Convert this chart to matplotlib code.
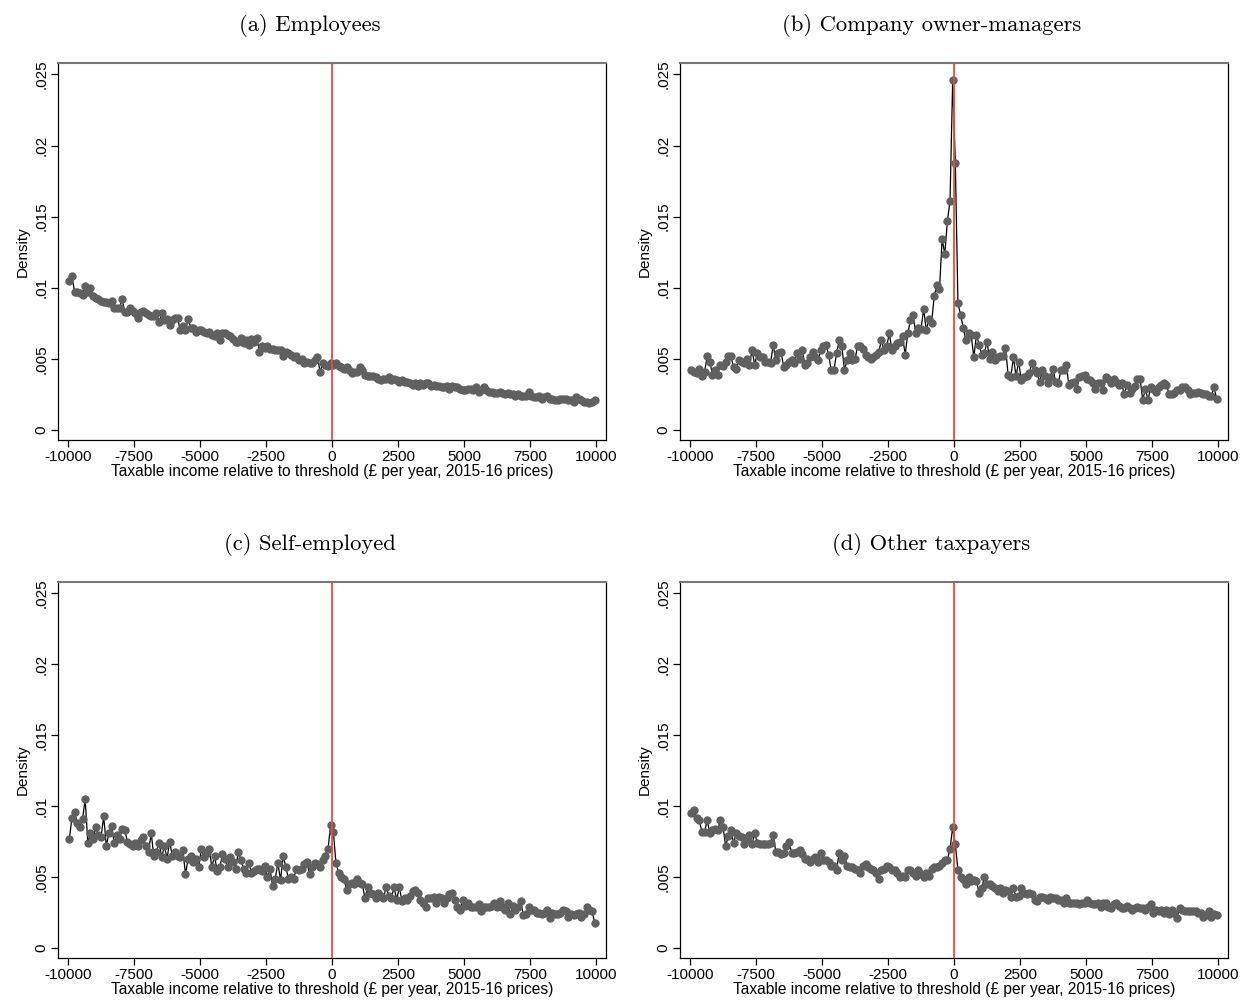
import numpy as np
import matplotlib
matplotlib.use("Agg")
import matplotlib.pyplot as plt

# Bin centres: -9950 ... 9950 in steps of 100
bin_lo, bin_hi, bin_w = -9950, 9950, 100

titles = ["(a) Employees", "(b) Company owner-managers",
          "(c) Self-employed", "(d) Other taxpayers"]

employees = [
    0.0105, 0.0108, 0.0097, 0.0097, 0.0096, 0.0095, 0.0101, 0.0097, 0.0100, 0.0094,
    0.0093, 0.0092, 0.0091, 0.0090, 0.0090, 0.0089, 0.0091, 0.0086, 0.0086, 0.0086,
    0.0092, 0.0083, 0.0083, 0.0086, 0.0084, 0.0082, 0.0079, 0.0083, 0.0084, 0.0082,
    0.0081, 0.0080, 0.0080, 0.0082, 0.0076, 0.0082, 0.0077, 0.0078, 0.0074, 0.0077,
    0.0079, 0.0079, 0.0070, 0.0073, 0.0070, 0.0078, 0.0072, 0.0072, 0.0069, 0.0070,
    0.0070, 0.0069, 0.0068, 0.0069, 0.0067, 0.0066, 0.0068, 0.0063, 0.0068, 0.0068,
    0.0067, 0.0066, 0.0064, 0.0062, 0.0062, 0.0065, 0.0061, 0.0063, 0.0060, 0.0064,
    0.0062, 0.0065, 0.0055, 0.0059, 0.0058, 0.0059, 0.0057, 0.0057, 0.0056, 0.0056,
    0.0056, 0.0052, 0.0055, 0.0054, 0.0053, 0.0051, 0.0052, 0.0049, 0.0050, 0.0047,
    0.0048, 0.0047, 0.0047, 0.0049, 0.0051, 0.0041, 0.0047, 0.0046, 0.0045, 0.0047,
    0.0046, 0.0047, 0.0045, 0.0044, 0.0043, 0.0044, 0.0042, 0.0040, 0.0041, 0.0041,
    0.0044, 0.0042, 0.0039, 0.0038, 0.0038, 0.0038, 0.0037, 0.0036, 0.0035, 0.0036,
    0.0036, 0.0037, 0.0035, 0.0036, 0.0035, 0.0034, 0.0035, 0.0034, 0.0034, 0.0033,
    0.0032, 0.0033, 0.0031, 0.0033, 0.0032, 0.0033, 0.0033, 0.0031, 0.0032, 0.0031,
    0.0031, 0.0030, 0.0030, 0.0031, 0.0029, 0.0031, 0.0030, 0.0030, 0.0029, 0.0028,
    0.0028, 0.0029, 0.0029, 0.0028, 0.0030, 0.0027, 0.0028, 0.0030, 0.0028, 0.0027,
    0.0027, 0.0026, 0.0026, 0.0027, 0.0026, 0.0025, 0.0026, 0.0025, 0.0025, 0.0024,
    0.0025, 0.0024, 0.0024, 0.0024, 0.0027, 0.0024, 0.0023, 0.0023, 0.0024, 0.0022,
    0.0023, 0.0024, 0.0022, 0.0022, 0.0021, 0.0021, 0.0022, 0.0022, 0.0022, 0.0021,
    0.0021, 0.0020, 0.0023, 0.0022, 0.0021, 0.0020, 0.0020, 0.0019, 0.0020, 0.0021,
]

owner_managers = [
    0.0042, 0.0041, 0.0040, 0.0043, 0.0038, 0.0041, 0.0052, 0.0048, 0.0039, 0.0042,
    0.0039, 0.0046, 0.0045, 0.0048, 0.0052, 0.0052, 0.0044, 0.0043, 0.0049, 0.0048,
    0.0047, 0.0050, 0.0046, 0.0056, 0.0046, 0.0054, 0.0051, 0.0051, 0.0048, 0.0048,
    0.0047, 0.0060, 0.0049, 0.0054, 0.0055, 0.0044, 0.0046, 0.0048, 0.0049, 0.0047,
    0.0054, 0.0050, 0.0056, 0.0046, 0.0047, 0.0051, 0.0055, 0.0051, 0.0049, 0.0056,
    0.0059, 0.0060, 0.0053, 0.0042, 0.0042, 0.0054, 0.0063, 0.0059, 0.0042, 0.0049,
    0.0054, 0.0049, 0.0050, 0.0059, 0.0059, 0.0057, 0.0053, 0.0051, 0.0050, 0.0051,
    0.0053, 0.0055, 0.0063, 0.0056, 0.0059, 0.0068, 0.0056, 0.0059, 0.0061, 0.0062,
    0.0066, 0.0053, 0.0068, 0.0077, 0.0081, 0.0068, 0.0072, 0.0071, 0.0085, 0.0070,
    0.0078, 0.0075, 0.0094, 0.0102, 0.0099, 0.0134, 0.0124, 0.0147, 0.0161, 0.0246,
    0.0188, 0.0089, 0.0081, 0.0072, 0.0063, 0.0068, 0.0067, 0.0051, 0.0067, 0.0060,
    0.0053, 0.0054, 0.0062, 0.0050, 0.0055, 0.0049, 0.0051, 0.0052, 0.0052, 0.0058,
    0.0039, 0.0037, 0.0051, 0.0038, 0.0048, 0.0035, 0.0037, 0.0038, 0.0040, 0.0047,
    0.0042, 0.0040, 0.0034, 0.0042, 0.0038, 0.0033, 0.0037, 0.0043, 0.0034, 0.0033,
    0.0042, 0.0042, 0.0046, 0.0032, 0.0033, 0.0034, 0.0029, 0.0037, 0.0038, 0.0039,
    0.0036, 0.0035, 0.0033, 0.0029, 0.0033, 0.0033, 0.0028, 0.0037, 0.0036, 0.0033,
    0.0036, 0.0034, 0.0032, 0.0033, 0.0025, 0.0032, 0.0026, 0.0029, 0.0031, 0.0036,
    0.0036, 0.0021, 0.0029, 0.0021, 0.0030, 0.0029, 0.0027, 0.0030, 0.0032, 0.0033,
    0.0032, 0.0025, 0.0025, 0.0026, 0.0028, 0.0028, 0.0030, 0.0030, 0.0028, 0.0025,
    0.0026, 0.0026, 0.0027, 0.0026, 0.0025, 0.0025, 0.0024, 0.0024, 0.0030, 0.0022,
]

self_employed = [
    0.0077, 0.0092, 0.0096, 0.0088, 0.0085, 0.0091, 0.0105, 0.0074, 0.0081, 0.0077,
    0.0085, 0.0080, 0.0078, 0.0093, 0.0072, 0.0081, 0.0086, 0.0074, 0.0080, 0.0077,
    0.0084, 0.0083, 0.0075, 0.0073, 0.0072, 0.0074, 0.0072, 0.0076, 0.0078, 0.0072,
    0.0068, 0.0081, 0.0065, 0.0068, 0.0074, 0.0064, 0.0072, 0.0063, 0.0075, 0.0065,
    0.0068, 0.0065, 0.0064, 0.0069, 0.0052, 0.0063, 0.0065, 0.0061, 0.0063, 0.0057,
    0.0070, 0.0064, 0.0067, 0.0070, 0.0057, 0.0065, 0.0054, 0.0057, 0.0066, 0.0063,
    0.0057, 0.0064, 0.0061, 0.0056, 0.0068, 0.0062, 0.0056, 0.0053, 0.0060, 0.0053,
    0.0054, 0.0056, 0.0056, 0.0054, 0.0058, 0.0050, 0.0056, 0.0044, 0.0049, 0.0060,
    0.0048, 0.0065, 0.0057, 0.0049, 0.0050, 0.0049, 0.0056, 0.0055, 0.0056, 0.0059,
    0.0061, 0.0052, 0.0057, 0.0060, 0.0059, 0.0057, 0.0062, 0.0065, 0.0070, 0.0087,
    0.0082, 0.0060, 0.0053, 0.0050, 0.0049, 0.0041, 0.0045, 0.0046, 0.0045, 0.0049,
    0.0046, 0.0045, 0.0035, 0.0043, 0.0039, 0.0038, 0.0035, 0.0039, 0.0037, 0.0035,
    0.0043, 0.0037, 0.0035, 0.0043, 0.0034, 0.0043, 0.0033, 0.0035, 0.0034, 0.0037,
    0.0040, 0.0041, 0.0039, 0.0034, 0.0032, 0.0029, 0.0035, 0.0035, 0.0036, 0.0032,
    0.0036, 0.0035, 0.0032, 0.0035, 0.0038, 0.0039, 0.0034, 0.0029, 0.0027, 0.0034,
    0.0030, 0.0032, 0.0029, 0.0029, 0.0029, 0.0031, 0.0026, 0.0029, 0.0029, 0.0029,
    0.0030, 0.0032, 0.0029, 0.0033, 0.0029, 0.0027, 0.0032, 0.0024, 0.0030, 0.0027,
    0.0029, 0.0033, 0.0023, 0.0024, 0.0029, 0.0027, 0.0027, 0.0025, 0.0025, 0.0024,
    0.0025, 0.0027, 0.0021, 0.0025, 0.0024, 0.0024, 0.0025, 0.0027, 0.0026, 0.0022,
    0.0024, 0.0023, 0.0024, 0.0025, 0.0022, 0.0024, 0.0029, 0.0027, 0.0026, 0.0018,
]

other_taxpayers = [
    0.0095, 0.0097, 0.0092, 0.0090, 0.0082, 0.0082, 0.0090, 0.0081, 0.0083, 0.0084,
    0.0083, 0.0090, 0.0085, 0.0072, 0.0079, 0.0083, 0.0074, 0.0081, 0.0079, 0.0078,
    0.0073, 0.0077, 0.0080, 0.0073, 0.0081, 0.0074, 0.0073, 0.0073, 0.0073, 0.0073,
    0.0074, 0.0080, 0.0068, 0.0068, 0.0066, 0.0067, 0.0072, 0.0075, 0.0067, 0.0067,
    0.0068, 0.0069, 0.0066, 0.0063, 0.0063, 0.0061, 0.0063, 0.0064, 0.0061, 0.0067,
    0.0062, 0.0062, 0.0061, 0.0058, 0.0058, 0.0055, 0.0067, 0.0062, 0.0065, 0.0058,
    0.0057, 0.0057, 0.0056, 0.0055, 0.0053, 0.0058, 0.0059, 0.0057, 0.0056, 0.0055,
    0.0053, 0.0049, 0.0055, 0.0056, 0.0058, 0.0057, 0.0055, 0.0055, 0.0053, 0.0050,
    0.0051, 0.0050, 0.0055, 0.0055, 0.0053, 0.0051, 0.0055, 0.0052, 0.0050, 0.0053,
    0.0051, 0.0056, 0.0057, 0.0057, 0.0058, 0.0060, 0.0062, 0.0062, 0.0070, 0.0085,
    0.0073, 0.0055, 0.0050, 0.0049, 0.0045, 0.0050, 0.0047, 0.0048, 0.0047, 0.0039,
    0.0042, 0.0050, 0.0045, 0.0045, 0.0044, 0.0042, 0.0040, 0.0042, 0.0039, 0.0041,
    0.0040, 0.0036, 0.0042, 0.0036, 0.0037, 0.0042, 0.0039, 0.0038, 0.0039, 0.0038,
    0.0034, 0.0033, 0.0036, 0.0036, 0.0035, 0.0034, 0.0036, 0.0035, 0.0035, 0.0034,
    0.0034, 0.0032, 0.0035, 0.0032, 0.0032, 0.0032, 0.0032, 0.0031, 0.0032, 0.0032,
    0.0034, 0.0032, 0.0031, 0.0031, 0.0032, 0.0029, 0.0032, 0.0032, 0.0029, 0.0028,
    0.0031, 0.0032, 0.0030, 0.0028, 0.0028, 0.0030, 0.0028, 0.0027, 0.0028, 0.0029,
    0.0028, 0.0028, 0.0027, 0.0029, 0.0031, 0.0025, 0.0027, 0.0026, 0.0027, 0.0025,
    0.0027, 0.0024, 0.0027, 0.0025, 0.0021, 0.0028, 0.0027, 0.0026, 0.0026, 0.0026,
    0.0026, 0.0026, 0.0025, 0.0025, 0.0022, 0.0023, 0.0026, 0.0022, 0.0024, 0.0023,
]

series = [employees, owner_managers, self_employed, other_taxpayers]

x_ticks = [-10000, -7500, -5000, -2500, 0, 2500, 5000, 7500, 10000]
x_ticklabels = ["-10000", "-7500", "-5000", "-2500", "0", "2500", "5000", "7500", "10000"]
y_ticks = [0, 0.005, 0.01, 0.015, 0.02, 0.025]
y_ticklabels = ["0", ".005", ".01", ".015", ".02", ".025"]
xlabel = "Taxable income relative to threshold (£ per year, 2015-16 prices)"
ylabel = "Density"

W, H = 1242, 1001
fig = plt.figure(figsize=(W / 100, H / 100), dpi=100)

# axes boxes in pixel coordinates: (left, top, right, bottom)
boxes = [(58, 63, 606, 440), (680, 63, 1228, 440),
         (58, 582, 606, 958), (680, 582, 1228, 958)]

sans = ["Liberation Sans", "DejaVu Sans"]
serif = ["cmr10", "DejaVu Serif"]

x = np.arange(bin_lo, bin_hi + 1, bin_w)

for i, (box, vals, title) in enumerate(zip(boxes, series, titles)):
    l, t, r, b = box
    ax = fig.add_axes([l / W, 1 - b / H, (r - l) / W, (b - t) / H])
    ax.plot(x, vals, color="black", lw=0.9, zorder=2)
    ax.plot(x, vals, ls="none", marker="o", ms=5.0, mfc="#606060",
            mec="#606060", zorder=3)
    ax.axvline(0, color="#f44444", lw=1.3, zorder=4)
    ax.set_xlim(-10380, 10380)
    ax.set_ylim(-0.0007, 0.0258)
    ax.set_xticks(x_ticks)
    ax.set_xticklabels(x_ticklabels, fontfamily=sans, fontsize=11)
    ax.set_yticks(y_ticks)
    ax.set_yticklabels(y_ticklabels, fontfamily=sans, fontsize=11,
                       rotation=90, va="center")
    ax.tick_params(axis="both", direction="out", length=5, width=0.9,
                   colors="black", pad=2)
    ax.set_xlabel(xlabel, fontfamily=sans, fontsize=11.2, labelpad=0)
    ax.set_ylabel(ylabel, fontfamily=sans, fontsize=11, labelpad=3)
    for side in ["left", "bottom", "right"]:
        ax.spines[side].set_color("black")
        ax.spines[side].set_linewidth(0.9)
    ax.spines["top"].set_color("#777777")
    ax.spines["top"].set_linewidth(1.5)
    ax.set_title(title, fontfamily=serif, fontsize=16.3, pad=23, x=0.459)

fig.savefig("out.png", dpi=100, facecolor="white")
